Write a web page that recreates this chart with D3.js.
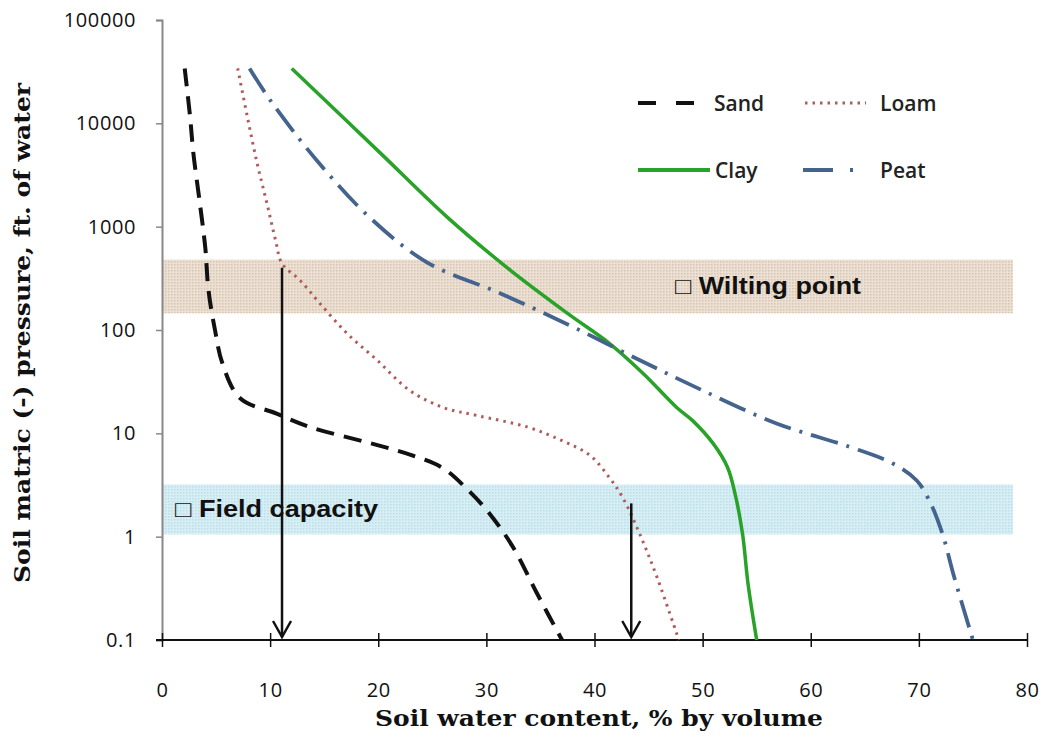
<!DOCTYPE html>
<html>
<head>
<meta charset="utf-8">
<script src="https://cdn.jsdelivr.net/npm/d3@7"></script>
<style>
  body { margin: 0; background: #fff; }
  svg { display: block; }
  .tick text { font-family: "Open Sans", Lato, sans-serif; font-size: 20px; letter-spacing: 0.6px; fill: #111; }
</style>
</head>
<body>
<svg id="chart" width="1047" height="740"></svg>
<script>
// soil water retention curves
var sandX = [2.1, 2.6, 2.9, 3.5, 4.0, 4.3, 4.9, 5.6, 7.2, 10.6, 13.7, 19.5, 23.2, 26.0, 28.2, 30.3, 32.5, 34.7, 37.0];
var sandY = [34000, 11500, 5150, 1690, 630, 242, 100, 47, 22, 15.5, 11.5, 7.9, 6.1, 4.6, 2.9, 1.67, 0.78, 0.28, 0.1];

var loamX = [7.0, 7.9, 8.8, 9.7, 10.5, 11.1, 12.8, 14.6, 17.1, 19.9, 22.9, 26.0, 29.1, 33.8, 37.0, 39.6, 41.4, 42.6, 44.2, 45.8, 47.8];
var loamY = [34000, 11500, 4100, 1690, 740, 440, 300, 181, 93, 51, 26, 17.8, 14.9, 11.5, 8.5, 6.1, 3.7, 2.4, 1.05, 0.4, 0.1];

var clayX = [12.0, 20.2, 26.4, 32.2, 37.7, 41.4, 44.5, 47.6, 49.1, 51.0, 52.3, 53.0, 53.7, 54.2, 55.0];
var clayY = [34000, 5150, 1230, 380, 140, 74, 38, 17.8, 13.2, 7.9, 4.7, 2.6, 1.05, 0.35, 0.1];

var peatX = [8.1, 10.0, 14.3, 19.2, 24.5, 31.3, 37.7, 44.2, 50.0, 56.9, 63.6, 67.6, 69.8, 71.0, 72.2, 73.2, 75.0];
var peatY = [34000, 16800, 4400, 1230, 452, 226, 111, 51, 26, 12.4, 7.4, 5.1, 3.5, 2.2, 1.05, 0.43, 0.1];

// shaded bands [low, high] on pressure, and right end on water content
var wiltBand = [145, 480];
var fieldBand = [1.05, 3.2];
var bandEndX = 78.7;

// arrows from the curves down to the axis
var arrowX = [11.1, 43.4];
var arrowTop = [400, 2.1];

var xTicks = [0, 10, 20, 30, 40, 50, 60, 70, 80];
var yTicks = [0.1, 1, 10, 100, 1000, 10000, 100000];
var yTickLabels = ["0.1", "1", "10", "100", "1000", "10000", "100000"];

var svg = d3.select("#chart");

var x = d3.scaleLinear().domain([0, 80]).range([162, 1027]);
var y = d3.scaleLog().domain([0.1, 100000]).range([640, 20]);

// halftone look of the bands
var defs = svg.append("defs");
function dots(id, base, dot) {
    var p = defs.append("pattern").attr("id", id)
        .attr("width", 3).attr("height", 3).attr("patternUnits", "userSpaceOnUse");
    p.append("rect").attr("width", 3).attr("height", 3).attr("fill", base);
    p.append("rect").attr("width", 1.5).attr("height", 1.5).attr("fill", dot);
}
dots("wiltDots", "#ebe0d3", "#d8c5b0");
dots("fieldDots", "#d6eef4", "#bbdfe9");

function band(vals, fill) {
    svg.append("rect")
        .attr("x", x(0))
        .attr("y", y(vals[1]))
        .attr("width", x(bandEndX) - x(0))
        .attr("height", y(vals[0]) - y(vals[1]))
        .attr("fill", fill);
}
band(wiltBand, "url(#wiltDots)");
band(fieldBand, "url(#fieldDots)");

function bandLabel(tx, v, label, len) {
    svg.append("text")
        .attr("x", tx).attr("y", y(v) + 8)
        .attr("textLength", len).attr("lengthAdjust", "spacingAndGlyphs")
        .style("font-family", "'Liberation Sans', Arial, sans-serif")
        .style("font-weight", "bold").style("font-size", "23px").attr("fill", "#111")
        .text(label);
}
bandLabel(675, Math.sqrt(wiltBand[0] * wiltBand[1]), "\u25A1 Wilting point", 186);
bandLabel(175, Math.sqrt(fieldBand[0] * fieldBand[1]), "\u25A1 Field capacity", 203);

// axes
var yAxis = svg.append("g")
    .attr("transform", "translate(" + x(0) + ",0)")
    .call(d3.axisLeft(y).tickValues(yTicks).tickSize(6).tickPadding(20)
        .tickFormat(function (d, i) { return yTickLabels[i]; }));
yAxis.select(".domain").attr("stroke", "#888").attr("stroke-width", 2);
yAxis.selectAll(".tick line").attr("stroke", "#888").attr("stroke-width", 1.5);

var xAxis = svg.append("g")
    .attr("transform", "translate(0," + y(0.1) + ")")
    .call(d3.axisBottom(x).tickValues(xTicks).tickSizeInner(7).tickSizeOuter(0).tickPadding(36));
xAxis.select(".domain").attr("stroke", "#111").attr("stroke-width", 2)
    .attr("d", "M" + (x(0) - 6) + ",0H" + x(80));
xAxis.selectAll(".tick line").attr("stroke", "#111").attr("stroke-width", 1.5)
    .attr("y1", -7).attr("y2", 7);

// curves
var line = d3.line()
    .x(function (d) { return x(d[0]); })
    .y(function (d) { return y(d[1]); })
    .curve(d3.curveCatmullRom.alpha(0.5));

function curve(xs, ys, color, width, dash) {
    var pts = xs.map(function (v, i) { return [v, ys[i]]; });
    svg.append("path")
        .datum(pts)
        .attr("d", line)
        .attr("fill", "none")
        .attr("stroke", color)
        .attr("stroke-width", width)
        .attr("stroke-dasharray", dash);
}
curve(sandX, sandY, "#111", 4, "18,10");
curve(loamX, loamY, "#b05a5a", 3, "2.5,5");
curve(clayX, clayY, "#28a228", 3.5, null);
curve(peatX, peatY, "#44648e", 3.8, "28,9,3,9");

// arrows
arrowX.forEach(function (v, i) {
    var ax = x(v), y0 = y(arrowTop[i]), y1 = y(0.1) - 3;
    svg.append("line")
        .attr("x1", ax).attr("x2", ax).attr("y1", y0).attr("y2", y1)
        .attr("stroke", "#111").attr("stroke-width", 2.5);
    svg.append("path")
        .attr("d", "M" + (ax - 9) + "," + (y1 - 16) + "L" + ax + "," + y1 + "L" + (ax + 9) + "," + (y1 - 16))
        .attr("fill", "none").attr("stroke", "#111").attr("stroke-width", 2.5);
});

// legend
var legend = [
    {name: "Sand", color: "#111", w: 4, dash: "18,20", x1: 638, x2: 696, tx: 714, ty: 103},
    {name: "Loam", color: "#b05a5a", w: 3, dash: "2.5,5", x1: 805, x2: 866, tx: 880, ty: 103},
    {name: "Clay", color: "#28a228", w: 3.8, dash: null, x1: 638, x2: 710, tx: 715, ty: 170},
    {name: "Peat", color: "#44648e", w: 3.8, dash: "30,17,3,20", x1: 803, x2: 856, tx: 880, ty: 170}
];
legend.forEach(function (d) {
    svg.append("line")
        .attr("x1", d.x1).attr("x2", d.x2).attr("y1", d.ty).attr("y2", d.ty)
        .attr("stroke", d.color).attr("stroke-width", d.w)
        .attr("stroke-dasharray", d.dash);
    svg.append("text")
        .attr("x", d.tx).attr("y", d.ty + 8)
        .style("font-family", "'Open Sans', Lato, sans-serif")
        .style("font-size", "21px").style("font-weight", "600").attr("fill", "#222")
        .text(d.name);
});

// axis titles
svg.append("text")
    .attr("x", 599).attr("y", 726)
    .attr("text-anchor", "middle")
    .attr("textLength", 448).attr("lengthAdjust", "spacingAndGlyphs")
    .style("font-family", "'DejaVu Serif', serif").style("font-weight", "bold")
    .style("font-size", "22px").attr("fill", "#111")
    .text("Soil water content, % by volume");

svg.append("text")
    .attr("transform", "translate(30,333) rotate(-90)")
    .attr("text-anchor", "middle")
    .attr("textLength", 500).attr("lengthAdjust", "spacingAndGlyphs")
    .style("font-family", "'DejaVu Serif', serif").style("font-weight", "bold")
    .style("font-size", "22px").attr("fill", "#111")
    .text("Soil matric (-) pressure, ft. of water");
</script>
</body>
</html>
